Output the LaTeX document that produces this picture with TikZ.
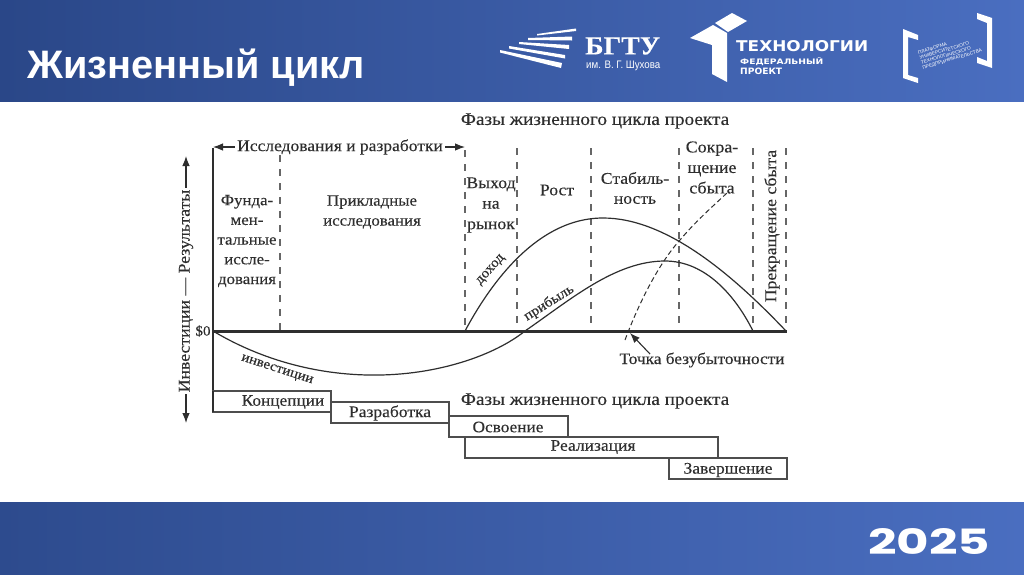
\documentclass[tikz,border=0pt]{standalone}
\usepackage{fontspec}
\setmainfont[FakeStretch=1.08,FakeBold=0.2]{Liberation Serif}
\newfontfamily\titlefont{Liberation Sans}
\newfontfamily\logofont{DejaVu Sans}
\newfontfamily\yearfont{Poppins}
\usetikzlibrary{arrows.meta}
\definecolor{bandL}{HTML}{2A4788}
\definecolor{bandR}{HTML}{4A6EC0}
\definecolor{ink}{HTML}{2E2E2E}
\definecolor{dashc}{HTML}{666666}
\tikzset{
 txt/.style={text=ink,inner sep=0pt,align=center,font=\fontsize{#1}{#1}\selectfont},
 txtl/.style 2 args={text=ink,inner sep=0pt,align=center,font=\fontsize{#1}{#2}\selectfont},
 phase/.style={dash pattern=on 7pt off 7pt,draw=dashc,line width=1.3pt},
 curve/.style={draw=ink,line width=1.2pt},
 stage/.style={draw=ink!85,line width=1.1pt,fill=white},
 arrowh/.style={draw=ink,line width=1.1pt,-{Latex[length=10pt,width=7.5pt]}},
 logo/.style={fill=white,draw=none},
 wt/.style={text=white,inner sep=0pt,anchor=west},
}
\begin{document}
\begin{tikzpicture}[x=1pt,y=-1pt]
\useasboundingbox (0,0) rectangle (1024,574);
\fill[white] (0,0) rectangle (1024,574);
\shade[left color=bandL,right color=bandR] (0,0) rectangle (1024,101);
\shade[left color=bandL!90!bandR,right color=bandR] (0,502) rectangle (1024,574);
% title
\node[anchor=west,inner sep=0pt,text=white] (title) at (27,67.5) {\resizebox{338pt}{!}{\titlefont\bfseries\fontsize{38}{38}\selectfont Жизненный цикл}};
% BGTU logo
\fill[logo] (500,50)--(562,63)--(561,68)--(500,52.5)--cycle;
\fill[logo] (509,46)--(565,55)--(565,58.5)--(509,48.5)--cycle;
\fill[logo] (519,42)--(569,45)--(569,49)--(519,44)--cycle;
\fill[logo] (528,38)--(572,36.5)--(572,40.5)--(528,40)--cycle;
\fill[logo] (537,34)--(576,28.5)--(576,31)--(537,35.5)--cycle;
\node[wt] (bgtu) at (585,46) {\resizebox{75pt}{17pt}{\bfseries БГТУ}};
\node[wt] (bgtusub) at (586,65.5) {\resizebox{74pt}{7.5pt}{\titlefont им. В. Г. Шухова}};
% tech logo
\fill[logo] (715,23)--(732,13)--(747,21)--(728,32)--cycle;
\fill[logo] (690,38)--(713,25)--(727,33)--(727,82)--(712,74)--(712,45)--cycle;
\node[wt] (tech) at (736,46.5) {\resizebox{132pt}{11pt}{\logofont\bfseries ТЕХНОЛОГИИ}};
\node[wt] (fed) at (740,61.5) {\resizebox{83pt}{7pt}{\logofont\bfseries ФЕДЕРАЛЬНЫЙ}};
\node[wt] (proj) at (740,71) {\resizebox{42pt}{6.5pt}{\logofont\bfseries ПРОЕКТ}};
% platform logo
\fill[logo] (903,29)--(918,35)--(918,40)--(908,37)--(908,75)--(918,78)--(918,83)--(903,78)--cycle;
\fill[logo] (977,13)--(992,18)--(992,68)--(977,63)--(977,57)--(987,61)--(987,23)--(977,19)--cycle;
\node[text=white,inner sep=0pt,rotate=17,align=left,font=\titlefont\fontsize{4.8}{5.3}\selectfont] (plat) at (950,52) {ПЛАТФОРМА\\УНИВЕРСИТЕТСКОГО\\ТЕХНОЛОГИЧЕСКОГО\\ПРЕДПРИНИМАТЕЛЬСТВА};
% year
\node[text=white,inner sep=0pt] (year) at (929,541.5) {\resizebox{122pt}{26pt}{\yearfont\bfseries 2025}};
% phase dividers
\coordinate (d1t) at (280,155); \coordinate (d1b) at (280,331);
\coordinate (d2t) at (465,150); \coordinate (d2b) at (465,331);
\coordinate (d3t) at (517,148); \coordinate (d3b) at (517,331);
\coordinate (d4t) at (591,148); \coordinate (d4b) at (591,331);
\coordinate (d5t) at (679,148); \coordinate (d5b) at (679,331);
\coordinate (d6t) at (753,148); \coordinate (d6b) at (753,331);
\coordinate (d7t) at (786,148); \coordinate (d7b) at (786,331);
\foreach \n in {1,...,7} \draw[phase] (d\n t) -- (d\n b);
% curves
\coordinate (z) at (213,331);
\draw[curve] (465,331) .. controls (488,288) and (535,218) .. (603,218)
  .. controls (665,218) and (730,272) .. (786,331);
\draw[curve] (z) .. controls (270,365) and (330,376) .. (380,375)
  .. controls (440,374) and (495,355) .. (525,331)
  .. controls (570,300) and (615,261) .. (665,261)
  .. controls (705,261) and (735,295) .. (753,331);
\draw[curve,line width=1pt,dash pattern=on 5pt off 3pt] (625,340) .. controls (640,300) and (660,262) .. (680,240) .. controls (695,222) and (712,207) .. (728,192);
% axes
\coordinate (axtop) at (213,148);
\coordinate (axbot) at (213,412);
\coordinate (zr) at (787,331);
\draw[draw=ink,line width=2.4pt] (axtop) -- (axbot);
\draw[draw=ink,line width=3pt] (z) -- (zr);
% stages
\draw[stage] (213,391) rectangle (331,412);
\draw[stage] (331,402) rectangle (449,423);
\draw[stage] (449,416) rectangle (568,437);
\draw[stage] (465,437) rectangle (718,458);
\draw[stage] (669,458) rectangle (787,479);
\draw[draw=ink,line width=2.4pt] (axbot) -- (213,391);
% texts
\node[txt=17.8] (ph1) at (595,121) {Фазы жизненного цикла проекта};
\node[txt=17.8] (ph2) at (595,401) {Фазы жизненного цикла проекта};
\node[txt=16.2] (rd) at (340,147) {Исследования и разработки};
\coordinate (rdL) at (213,147); \coordinate (rdR) at (465,147);
\draw[arrowh,shorten <=2pt] (rd.west) -- (rdL);
\draw[arrowh,shorten <=2pt] (rd.east) -- (rdR);
\node[txt=16.4,rotate=90] (ax) at (186,291) {Инвестиции — Результаты};
\coordinate (up) at (186,156); \coordinate (dn) at (186,423);
\draw[arrowh,shorten <=2pt] (ax.east) -- (up);
\draw[arrowh,shorten <=2pt] (ax.west) -- (dn);
\node[txt=14] (zero) at (203,331) {\$0};
\node[txtl={15.6}{19.7}] (f1) at (247,241) {Фунда-\\мен-\\тальные\\иссле-\\дования};
\node[txtl={15.6}{20}] (f2) at (372,212) {Прикладные\\исследования};
\node[txtl={16.4}{20.5}] (f3) at (491,205) {Выход\\на\\рынок};
\node[txt=16.3] (f4) at (557,190) {Рост};
\node[txtl={16.3}{20}] (f5) at (635,188) {Стабиль-\\ность};
\node[txtl={16.6}{20.5}] (f6) at (712,167.5) {Сокра-\\щение\\сбыта};
\node[txt=16.4,rotate=90] (f7) at (772,226) {Прекращение сбыта};
\node[txt=14,rotate=48] (l1) at (491,270) {доход};
\node[txt=14,rotate=32] (l2) at (549,303) {прибыль};
\node[txt=13.8,rotate=-18] (l3) at (277,370) {инвестиции};
\node[txt=16] (be) at (702,360) {Точка безубыточности};
\coordinate (bes) at (650,354);
\coordinate (bep) at (630,333);
\draw[arrowh] (bes) -- (bep);
\node[txt=16] (s1) at (283,402) {Концепции};
\node[txt=16.2] (s2) at (390,413) {Разработка};
\node[txt=16] (s3) at (508,427) {Освоение};
\node[txt=16.2] (s4) at (593,447) {Реализация};
\node[txt=16.2] (s5) at (728,470) {Завершение};
\end{tikzpicture}
\end{document}
